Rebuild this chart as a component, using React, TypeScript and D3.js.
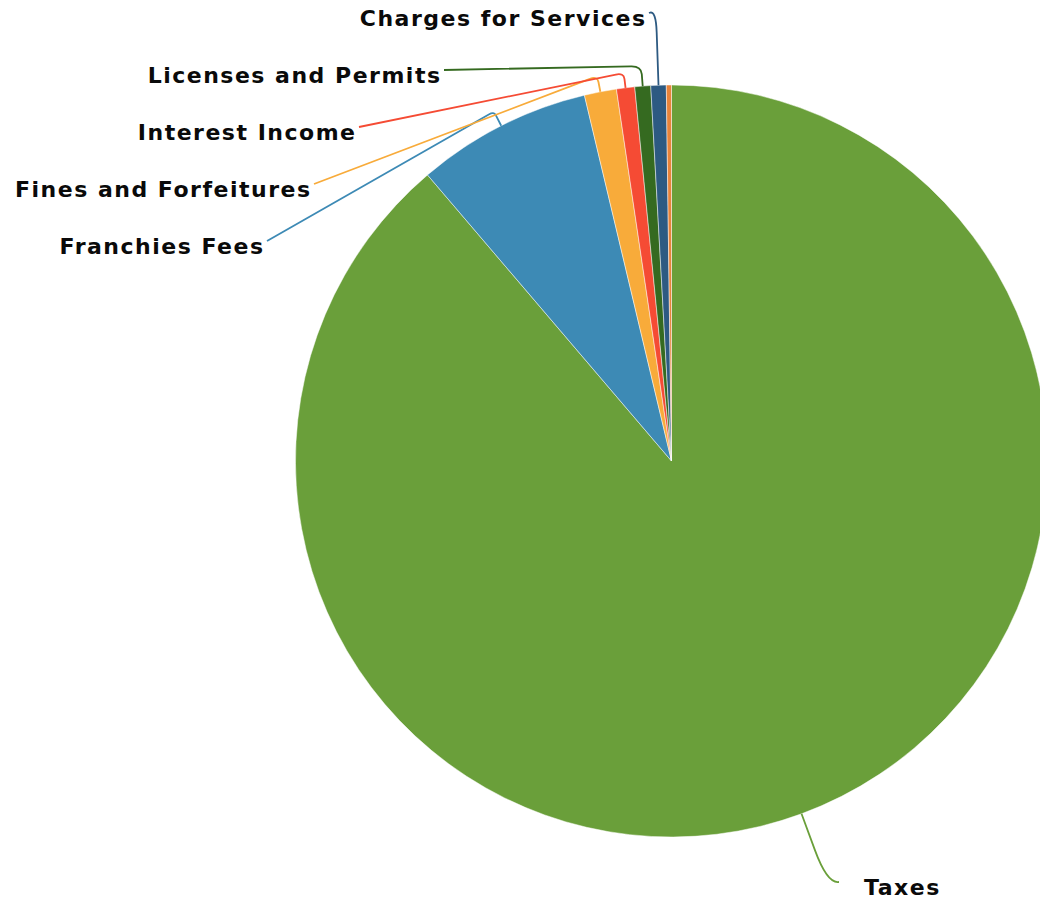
import React from "react";
import * as d3 from "d3";

const categories = [
  "Taxes",
  "Franchies Fees",
  "Fines and Forfeitures",
  "Interest Income",
  "Licenses and Permits",
  "Charges for Services",
  "Other",
];
const shares = [88.76, 7.52, 1.38, 0.78, 0.68, 0.66, 0.22];
const colors = ["#6a9f3a", "#3d8ab5", "#f8ab3a", "#f54b34", "#356a20", "#2d5a82", "#e8833a"];

// label layout (positions only)
const labelX = [864, 263, 310, 355, 440, 645, null];
const labelY = [887, 246, 189, 132, 75, 18, null];
const labelSide = ["right", "left", "left", "left", "left", "left", null];
const cornerDist = [73, 16, 16, 15, 20, 75, 0];
const roundIn = [34, 4, 6, 6, 8, 22, 0];
const roundOut = [12, 6, 8, 8, 10, 8, 0];

const W = 1040;
const H = 903;
const cx = 671.5;
const cy = 461;
const R = 376;
const LS = 1.5;

export default function App() {
  const data = categories.map((c, i) => ({ name: c, value: shares[i], i }));
  const pie = d3.pie<any>().sort(null).value((d: any) => d.value);
  const arcs = pie(data);
  const arcGen = d3.arc<any>().innerRadius(0).outerRadius(R);

  const leaders = arcs.map((a, i) => {
    if (labelX[i] == null) return null;
    const mid = (a.startAngle + a.endAngle) / 2;
    const ux = Math.sin(mid);
    const uy = -Math.cos(mid);
    const p0 = [ux * R, uy * R];
    const c = [ux * (R + cornerDist[i]), uy * (R + cornerDist[i])];
    const side = labelSide[i];
    const lx = (labelX[i] as number) - cx + (side === "left" ? 4 : -25);
    const ly = (labelY[i] as number) - cy - 5;
    const p3 = [lx, ly];
    const v1 = [c[0] - p0[0], c[1] - p0[1]];
    const l1 = Math.hypot(v1[0], v1[1]);
    const v2 = [p3[0] - c[0], p3[1] - c[1]];
    const l2 = Math.hypot(v2[0], v2[1]);
    const r1 = Math.min(roundIn[i], l1 * 0.9);
    const r2 = Math.min(roundOut[i], l2 * 0.9);
    const a1 = [c[0] - (v1[0] / l1) * r1, c[1] - (v1[1] / l1) * r1];
    const a2 = [c[0] + (v2[0] / l2) * r2, c[1] + (v2[1] / l2) * r2];
    const path = d3.path();
    path.moveTo(p0[0], p0[1]);
    path.lineTo(a1[0], a1[1]);
    path.quadraticCurveTo(c[0], c[1], a2[0], a2[1]);
    path.lineTo(p3[0], p3[1]);
    return { d: path.toString(), color: colors[i], i };
  });

  return (
    <svg
      width={W}
      height={H}
      style={{ position: "absolute", left: 0, top: 0, background: "#fff" }}
    >
      <g transform={`translate(${cx},${cy})`}>
        {arcs.map((a, i) => (
          <path
            key={i}
            d={arcGen(a) as string}
            fill={colors[i]}
            stroke="#ffffff"
            strokeWidth={0.6}
            strokeOpacity={0.8}
          />
        ))}
        {leaders.map((l) =>
          l ? (
            <path key={l.i} d={l.d} fill="none" stroke={l.color} strokeWidth={1.8} />
          ) : null
        )}
      </g>
      {categories.map((c, i) =>
        labelX[i] == null ? null : (
          <text
            key={c}
            x={(labelX[i] as number) + (labelSide[i] === "left" ? LS : 0)}
            y={labelY[i] as number}
            textAnchor={labelSide[i] === "left" ? "end" : "start"}
            dominantBaseline="central"
            fontFamily="'DejaVu Sans', sans-serif"
            fontWeight="bold"
            fontSize={22}
            letterSpacing={LS}
            fill="#0a0a0a"
          >
            {c}
          </text>
        )
      )}
    </svg>
  );
}
